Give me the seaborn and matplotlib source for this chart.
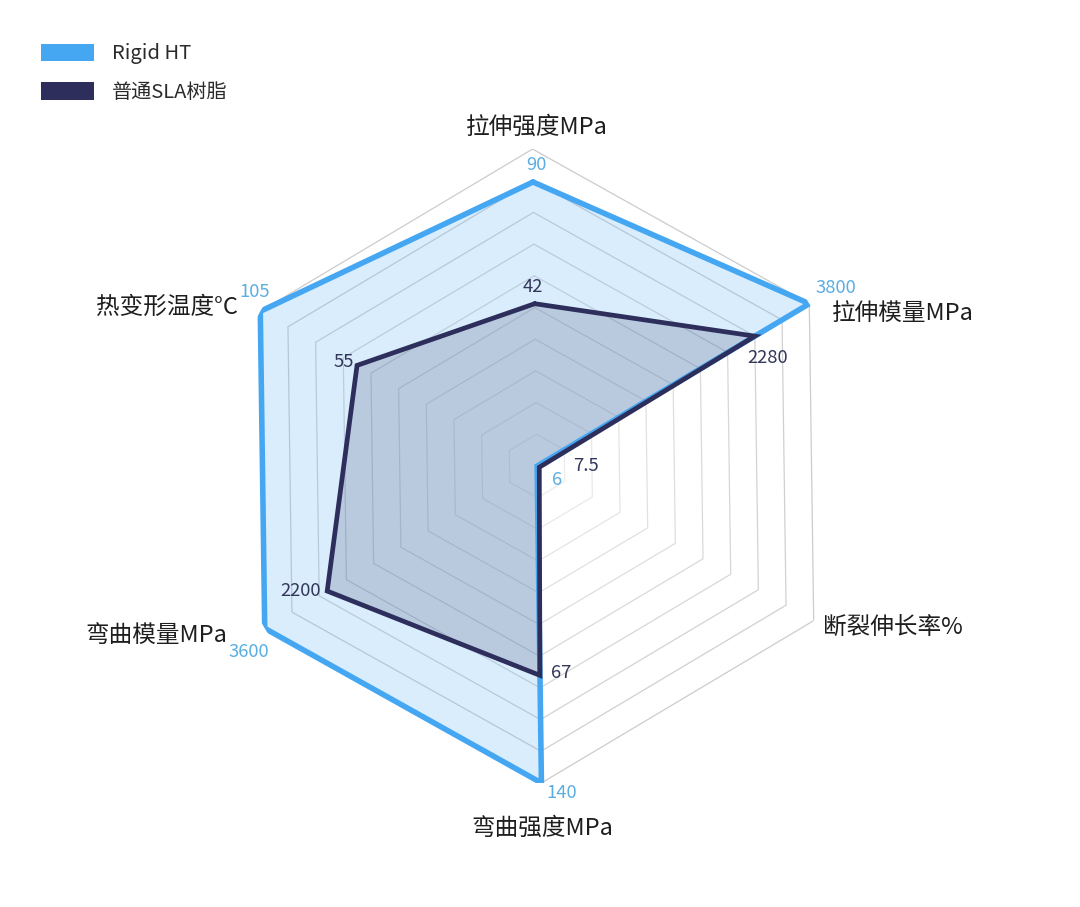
import numpy as np
import pandas as pd
import matplotlib
matplotlib.use("Agg")
import matplotlib.pyplot as plt
from matplotlib.patches import Patch
import seaborn as sns

# ---------------- data ----------------
categories = ["拉伸强度MPa", "拉伸模量MPa", "断裂伸长率%", "弯曲强度MPa", "弯曲模量MPa", "热变形温度°C"]
series_names = ["Rigid HT", "普通SLA树脂"]
rigid_values = [90, 3800, 6, 140, 3600, 105]
sla_values = [42, 2280, 7.5, 67, 2200, 55]
# per-axis scale (min, max) of the radar indicators
axis_min = [-22, -3800, 5.9, -75, -2500, -38]
axis_max = [103, 3800, 200, 140, 3600, 105]
value_labels_rigid = ["90", "3800", "6", "140", "3600", "105"]
value_labels_sla = ["42", "2280", "7.5", "67", "2200", "55"]

# ---------------- style ----------------
sns.set_theme(style="white")
plt.rcParams["font.family"] = ["Noto Sans CJK SC", "DejaVu Sans"]

BLUE = "#45a7f2"
BLUE_TXT = "#5aaee2"
NAVY = "#2d2e5c"
NAVY_TXT = "#34365a"

fig = plt.figure(figsize=(10.8, 9.07), dpi=100)
W, H = 1080, 907
cx, cy, R = 537, 466, 317
ax = fig.add_axes([(cx - R) / W, (H - cy - R) / H, 2 * R / W, 2 * R / H], projection="polar")
ax.set_theta_direction(-1)
ax.set_theta_offset(np.pi / 2 + np.deg2rad(0.8))
ax.set_ylim(0, 1)
ax.grid(False)
ax.spines["polar"].set_visible(False)
ax.set_xticks([])
ax.set_yticks([])
ax.patch.set_alpha(0)

n = len(categories)
angles = np.arange(n) * 2 * np.pi / n

# hexagonal split lines
ring_angles = np.append(angles, 2 * np.pi)
for i in range(1, 11):
    g = 0.94 - 0.14 * (i / 10)
    ax.plot(ring_angles, np.full(n + 1, i / 10), color=(g, g, g), lw=0.9, zorder=1)

def scale(vals):
    return [(v - lo) / (hi - lo) for v, lo, hi in zip(vals, axis_min, axis_max)]

rows = []
for name, vals in zip(series_names, [rigid_values, sla_values]):
    r = scale(vals)
    for k in range(n + 1):
        rows.append({"series": name, "theta": angles[k % n] if k < n else 2 * np.pi,
                     "r": r[k % n], "order": k})
df = pd.DataFrame(rows)

for name, color, alpha in [("Rigid HT", BLUE, 0.2), ("普通SLA树脂", NAVY, 0.18)]:
    d = df[df.series == name]
    ax.fill(d.theta, d.r, color=color, alpha=alpha, lw=0, zorder=2)

sns.lineplot(data=df, x="theta", y="r", hue="series", units="series", estimator=None,
             sort=False, palette={"Rigid HT": BLUE, "普通SLA树脂": NAVY},
             ax=ax, legend=False, zorder=3)
lines = ax.get_lines()[-2:]
for ln, lw in zip(lines, [4.0, 3.4]):
    ln.set_linewidth(lw)
    ln.set_solid_joinstyle("miter")
ax.set_xlabel("")
ax.set_ylabel("")
ax.set_xticks([])
ax.set_yticks([])
ax.set_ylim(0, 1)

# category labels (offsets in pixels from outer vertex)
cat_offsets = [(4, 22, "center"), (23, -10, "left"), (9, -8, "left"),
               (1, -45, "center"), (-37, -7, "right"), (-22, 4, "right")]
for a, lab, (ox, oy, ha) in zip(angles, categories, cat_offsets):
    ax.annotate(lab, xy=(a, 1.0), xytext=(ox, oy), textcoords="offset pixels",
                ha=ha, va="center", fontsize=17, color="#1e1e1e", zorder=5,
                annotation_clip=False)

# value labels
rigid_off = [(3, 17), (27, 16), (20, -14), (20, -10), (-16, -24), (-6, 19)]
sla_off = [(-2, 17), (13, -22), (47, 1), (21, 2), (-27, 0), (-13, 3)]
for a, rv, lab, (ox, oy) in zip(angles, scale(rigid_values), value_labels_rigid, rigid_off):
    ax.annotate(lab, xy=(a, rv), xytext=(ox, oy), textcoords="offset pixels",
                ha="center", va="center", fontsize=13.3, color=BLUE_TXT, zorder=6,
                annotation_clip=False)
for a, sv, lab, (ox, oy) in zip(angles, scale(sla_values), value_labels_sla, sla_off):
    ax.annotate(lab, xy=(a, sv), xytext=(ox, oy), textcoords="offset pixels",
                ha="center", va="center", fontsize=13.3, color=NAVY_TXT, zorder=6,
                annotation_clip=False)

# legend
handles = [Patch(facecolor=BLUE, edgecolor="none"), Patch(facecolor=NAVY, edgecolor="none")]
fig.legend(handles, series_names, loc="upper left", bbox_to_anchor=(23 / W, 1 - 25 / H),
           frameon=False, fontsize=14.5, handlelength=2.65, handleheight=0.95,
           handletextpad=0.85, labelspacing=0.88, labelcolor="#2a2a2a")

fig.savefig("out.png", dpi=100, facecolor="white")
